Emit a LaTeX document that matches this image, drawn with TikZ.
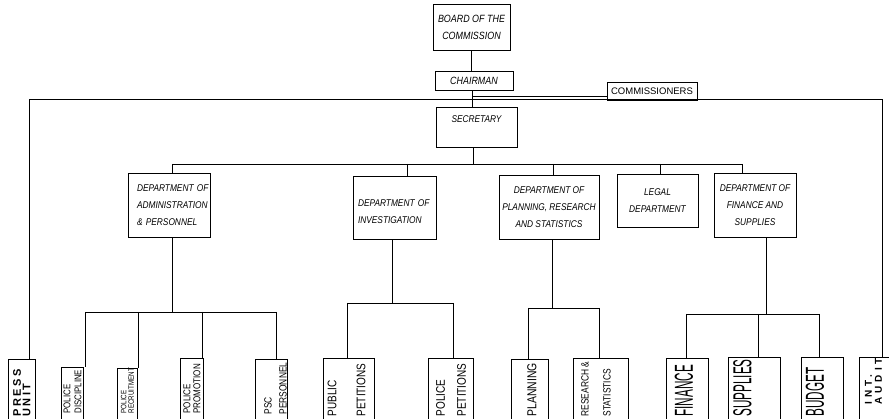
\documentclass[tikz,border=0pt]{standalone}
\usepackage{fontspec}
\setmainfont{Liberation Sans}
\newfontfamily\deptfont{Liberation Sans}[FakeStretch=0.85]
\newfontfamily\leaffont{Liberation Sans}[FakeStretch=0.8]
\newfontfamily\tallfont{Liberation Sans}[FakeStretch=0.45]
\newfontfamily\spacedfont{Liberation Sans}[LetterSpace=40]
\newfontfamily\pressfont{Liberation Sans}[LetterSpace=22]
\usetikzlibrary{positioning}

\begin{document}
\begin{tikzpicture}[x=1pt,y=-1pt,line width=0.9pt,
  unit/.style={draw, inner sep=0pt, align=center, font=\deptfont\itshape\fontsize{9.8}{17}\selectfont},
  leaf/.style={draw, inner sep=0pt, anchor=north west},
  leaftext/.style={rotate=90, anchor=west, inner sep=0pt, align=left}]
\useasboundingbox (0,0) rectangle (889,419);
\clip (0,0) rectangle (889,419);

\node[unit, minimum width=77pt, minimum height=46pt, font=\deptfont\itshape\fontsize{10.5}{17}\selectfont] (board) at (471.5,27) {BOARD OF THE\\COMMISSION};
\node[unit, minimum width=78pt, minimum height=19pt, font=\deptfont\itshape\fontsize{10.5}{12}\selectfont] (chairman) at (474,80.5) {CHAIRMAN};
\node[unit, minimum width=90pt, minimum height=18pt, font=\rmfamily\fontsize{9.5}{11}\selectfont] (commissioners) at (652,91) {COMMISSIONERS};
\node[unit, minimum width=81pt, minimum height=40pt, text depth=16pt] (secretary) at (476.5,127) {SECRETARY};

\node[unit, minimum width=82pt, minimum height=64pt, text width=64pt, align=left] (admin) at (169,205) {DEPARTMENT~OF\\ADMINISTRATION\\\& PERSONNEL};
\node[unit, minimum width=83pt, minimum height=63pt, text width=73pt, align=left, text depth=8pt] (invest) at (394.5,207.5) {DEPARTMENT OF\\INVESTIGATION};
\node[unit, minimum width=100pt, minimum height=64pt] (plan) at (549,207) {DEPARTMENT OF\\PLANNING, RESEARCH\\AND STATISTICS};
\node[unit, minimum width=81pt, minimum height=53pt] (legal) at (657.5,200.5) {LEGAL\\DEPARTMENT};
\node[unit, minimum width=82pt, minimum height=64pt] (findept) at (755,205) {DEPARTMENT OF\\FINANCE AND\\SUPPLIES};

\node[leaf, minimum width=27pt, minimum height=66pt] (press) at (8,359) {};
\node[leaf, minimum width=22pt, minimum height=58pt] (pd) at (61,367) {};
\node[leaf, minimum width=20pt, minimum height=57pt] (pr) at (117,368) {};
\node[leaf, minimum width=23pt, minimum height=67pt] (pp) at (180,358) {};
\node[leaf, minimum width=32pt, minimum height=66pt] (psc) at (255,359) {};
\node[leaf, minimum width=51pt, minimum height=67pt] (pub) at (323,358) {};
\node[leaf, minimum width=45pt, minimum height=67pt] (polpet) at (428,358) {};
\node[leaf, minimum width=37pt, minimum height=66pt] (planning) at (511,359) {};
\node[leaf, minimum width=55pt, minimum height=67pt] (research) at (573,358) {};
\node[leaf, minimum width=42pt, minimum height=67pt] (finance) at (666,358) {};
\node[leaf, minimum width=52pt, minimum height=68pt] (supplies) at (728,357) {};
\node[leaf, minimum width=42pt, minimum height=68pt] (budget) at (801,357) {};
\node[leaf, minimum width=40pt, minimum height=68pt] (audit) at (859,357) {};

\node[leaftext, font=\pressfont\bfseries\fontsize{11}{9.5}\selectfont] (presst) at ([yshift=9pt]press.south) {PRESS\\UNIT};
\node[leaftext, font=\leaffont\fontsize{9.8}{11}\selectfont] (pdt) at ([yshift=12pt]pd.south) {POLICE\\DISCIPLINE};
\node[leaftext, font=\leaffont\fontsize{7.8}{7.5}\selectfont] (prt) at ([yshift=12pt]pr.south) {POLICE\\RECRUITMENT};
\node[leaftext, font=\leaffont\fontsize{10}{10}\selectfont] (ppt) at ([yshift=12pt]pp.south) {POLICE\\PROMOTION};
\node[leaftext, font=\leaffont\fontsize{10.5}{15}\selectfont] (psct) at ([xshift=4pt,yshift=11pt]psc.south) {PSC\\PERSONNEL};
\node[leaftext, font=\leaffont\fontsize{12.5}{29}\selectfont] (pubt) at ([xshift=-2.5pt,yshift=9pt]pub.south) {PUBLIC\\PETITIONS};
\node[leaftext, font=\leaffont\fontsize{12.5}{21}\selectfont] (polpett) at ([yshift=9pt]polpet.south) {POLICE\\PETITIONS};
\node[leaftext, font=\leaffont\fontsize{13}{16}\selectfont] (planningt) at ([xshift=2pt,yshift=9pt]planning.south) {PLANNING};
\node[leaftext, font=\leaffont\fontsize{10.5}{22}\selectfont] (researcht) at ([xshift=-5pt,yshift=9pt]research.south) {RESEARCH \&\\STATISTICS};
\node[leaftext, font=\tallfont\fontsize{26}{26}\selectfont] (financet) at ([xshift=-3.5pt,yshift=9pt]finance.south) {FINANCE};
\node[leaftext, font=\tallfont\fontsize{26}{26}\selectfont] (suppliest) at ([xshift=-12pt,yshift=9pt]supplies.south) {SUPPLIES};
\node[leaftext, font=\tallfont\fontsize{26}{26}\selectfont] (budgett) at ([xshift=-7.5pt,yshift=9pt]budget.south) {BUDGET};
\node[leaftext, font=\spacedfont\bfseries\fontsize{10}{10}\selectfont] (auditt) at ([xshift=-6pt,yshift=21pt]audit.south) {INT.\\AUDIT};

\coordinate (hub) at (472,99);
\coordinate (cj) at (472,96);
\coordinate (pj) at (29,99);
\coordinate (aj) at (882,99);
\draw (board.south) -- (board.south |- chairman.north);
\draw (chairman.south -| hub) -- (hub |- secretary.north);
\draw (cj) -- (cj -| commissioners.west);
\draw (pj |- press.north) -- (pj) -- (aj) -- (aj |- audit.north);

\coordinate (sj) at (473,164);
\draw (sj |- secretary.south) -- (sj);
\foreach \n/\x in {admin/172,invest/407,plan/553,legal/660,findept/742}{
  \coordinate (j\n) at (\x,164);
  \draw (j\n) -- (j\n |- \n.north);
}
\draw (jadmin) -- (jfindept);

\coordinate (ab) at (172,312);
\coordinate (ib) at (392,303);
\coordinate (pb) at (552,308);
\coordinate (fb) at (766,314);
\draw (ab |- admin.south) -- (ab);
\draw (ib |- invest.south) -- (ib);
\draw (pb |- plan.south) -- (pb);
\draw (fb |- findept.south) -- (fb);
\foreach \n/\x/\y in {pd/85/312,pr/138/312,pp/202/312,psc/276/312,pub/347/303,polpet/453/303,
  planning/528/308,research/599/308,finance/686/314,supplies/758/314,budget/819/314}{
  \coordinate (b\n) at (\x,\y);
  \draw (b\n) -- (b\n |- \n.north);
}
\draw (bpd) -- (bpsc);
\draw (bpub) -- (bpolpet);
\draw (bplanning) -- (bresearch);
\draw (bfinance) -- (bbudget);
\end{tikzpicture}
\end{document}
